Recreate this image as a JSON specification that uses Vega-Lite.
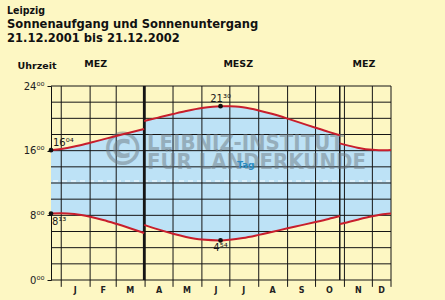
{
  "$schema": "https://vega.github.io/schema/vega-lite/v6.json",
  "width": 340,
  "height": 194,
  "autosize": {"type": "none"},
  "padding": {"left": 51, "top": 86, "right": 54, "bottom": 20},
  "background": "#fdf7c3",
  "config": {"view": {"stroke": null}, "font": "DejaVu Sans", "axisX": {"labelOverlap": false}},
  "title": {
    "text": "Leipzig",
    "subtitle": ["Sonnenaufgang und Sonnenuntergang", "21.12.2001 bis 21.12.2002"],
    "anchor": "start",
    "frame": "group",
    "dx": -44,
    "offset": 14,
    "font": "DejaVu Sans Condensed, Open Sans",
    "fontSize": 10.5,
    "fontWeight": "bold",
    "color": "#111111",
    "subtitleFont": "DejaVu Sans Condensed, Open Sans",
    "subtitleFontSize": 12.8,
    "subtitleFontWeight": "bold",
    "subtitleColor": "#111111",
    "subtitlePadding": 2,
    "subtitleLineHeight": 14
  },
  "datasets": {
    "sun": [
      {"date": "2001-12-21", "seg": "MEZ1", "rise": 8.217, "set": 16.067},
      {"date": "2002-01-01", "seg": "MEZ1", "rise": 8.257, "set": 16.209},
      {"date": "2002-01-15", "seg": "MEZ1", "rise": 8.153, "set": 16.503},
      {"date": "2002-02-01", "seg": "MEZ1", "rise": 7.817, "set": 16.983},
      {"date": "2002-02-15", "seg": "MEZ1", "rise": 7.426, "set": 17.398},
      {"date": "2002-03-01", "seg": "MEZ1", "rise": 6.949, "set": 17.815},
      {"date": "2002-03-15", "seg": "MEZ1", "rise": 6.436, "set": 18.214},
      {"date": "2002-03-31", "seg": "MEZ1", "rise": 5.823, "set": 18.671},
      {"date": "2002-03-31", "seg": "MESZ", "rise": 6.823, "set": 19.671},
      {"date": "2002-04-15", "seg": "MESZ", "rise": 6.26, "set": 20.09},
      {"date": "2002-05-01", "seg": "MESZ", "rise": 5.724, "set": 20.53},
      {"date": "2002-05-15", "seg": "MESZ", "rise": 5.331, "set": 20.899},
      {"date": "2002-06-01", "seg": "MESZ", "rise": 5.003, "set": 21.273},
      {"date": "2002-06-21", "seg": "MESZ", "rise": 4.9, "set": 21.5},
      {"date": "2002-07-01", "seg": "MESZ", "rise": 4.975, "set": 21.5},
      {"date": "2002-07-15", "seg": "MESZ", "rise": 5.186, "set": 21.364},
      {"date": "2002-08-01", "seg": "MESZ", "rise": 5.58, "set": 20.98},
      {"date": "2002-08-15", "seg": "MESZ", "rise": 5.943, "set": 20.557},
      {"date": "2002-09-01", "seg": "MESZ", "rise": 6.394, "set": 19.96},
      {"date": "2002-09-15", "seg": "MESZ", "rise": 6.757, "set": 19.437},
      {"date": "2002-10-01", "seg": "MESZ", "rise": 7.174, "set": 18.836},
      {"date": "2002-10-15", "seg": "MESZ", "rise": 7.556, "set": 18.32},
      {"date": "2002-10-27", "seg": "MESZ", "rise": 7.913, "set": 17.903},
      {"date": "2002-10-27", "seg": "MEZ2", "rise": 6.913, "set": 16.903},
      {"date": "2002-11-01", "seg": "MEZ2", "rise": 7.054, "set": 16.75},
      {"date": "2002-11-15", "seg": "MEZ2", "rise": 7.464, "set": 16.372},
      {"date": "2002-12-01", "seg": "MEZ2", "rise": 7.883, "set": 16.101},
      {"date": "2002-12-15", "seg": "MEZ2", "rise": 8.152, "set": 16.038},
      {"date": "2002-12-21", "seg": "MEZ2", "rise": 8.216, "set": 16.07}
    ],
    "months": [
      {"date": "2002-01-01"}, {"date": "2002-02-01"}, {"date": "2002-03-01"},
      {"date": "2002-04-01"}, {"date": "2002-05-01"}, {"date": "2002-06-01"},
      {"date": "2002-07-01"}, {"date": "2002-08-01"}, {"date": "2002-09-01"},
      {"date": "2002-10-01"}, {"date": "2002-11-01"}, {"date": "2002-12-01"},
      {"date": "2002-12-21"}
    ],
    "hours": [
      {"hour": 0}, {"hour": 2}, {"hour": 4}, {"hour": 6}, {"hour": 8}, {"hour": 10},
      {"hour": 12}, {"hour": 14}, {"hour": 16}, {"hour": 18}, {"hour": 20}, {"hour": 22}, {"hour": 24}
    ],
    "noon": [{"hour": 12}],
    "dst": [
      {"date": "2002-03-31", "change": "MEZ → MESZ"},
      {"date": "2002-10-27", "change": "MESZ → MEZ"}
    ],
    "zones": [
      {"date": "2002-02-07", "label": "MEZ"},
      {"date": "2002-07-10", "label": "MESZ"},
      {"date": "2002-11-22", "label": "MEZ"}
    ],
    "extremes": [
      {"date": "2001-12-21", "hour": 16.067, "label": "16⁰⁴", "event": "Sonnenuntergang"},
      {"date": "2001-12-21", "hour": 8.217, "label": "8¹³", "event": "Sonnenaufgang"},
      {"date": "2002-06-21", "hour": 21.5, "label": "21³⁰", "event": "Sonnenuntergang"},
      {"date": "2002-06-21", "hour": 4.9, "label": "4⁵⁴", "event": "Sonnenaufgang"}
    ],
    "copyright": [{"date": "2002-03-08", "hour": 15.9, "label": "©"}],
    "watermark": [
      {"date": "2002-04-03", "hour": 16.1, "label": "LEIBNIZ-INSTITUT"},
      {"date": "2002-04-03", "hour": 13.7, "label": "FÜR LÄNDERKUNDE"}
    ],
    "day": [{"date": "2002-07-18", "hour": 14.2, "label": "Tag"}],
    "monthLabels": [
      {"date": "2002-01-16", "label": "J"}, {"date": "2002-02-15", "label": "F"},
      {"date": "2002-03-16", "label": "M"}, {"date": "2002-04-16", "label": "A"},
      {"date": "2002-05-16", "label": "M"}, {"date": "2002-06-16", "label": "J"},
      {"date": "2002-07-16", "label": "J"}, {"date": "2002-08-16", "label": "A"},
      {"date": "2002-09-16", "label": "S"}, {"date": "2002-10-16", "label": "O"},
      {"date": "2002-11-16", "label": "N"}, {"date": "2002-12-11", "label": "D"}
    ]
  },
  "layer": [
    {
      "data": {"name": "sun"},
      "mark": {"type": "area", "interpolate": "monotone", "color": "#bde2f6", "opacity": 1},
      "encoding": {
        "x": {
          "field": "date", "type": "temporal",
          "scale": {"type": "utc", "domain": [{"year": 2001, "month": 12, "date": 21, "utc": true}, {"year": 2002, "month": 12, "date": 21, "utc": true}]},
          "axis": null
        },
        "y": {
          "field": "rise", "type": "quantitative",
          "scale": {"domain": [0, 24], "nice": false, "zero": false},
          "axis": {
            "title": "Uhrzeit", "titleAngle": 0, "titleAlign": "left", "titleBaseline": "middle",
            "titleX": -34, "titleY": -21, "titleFont": "DejaVu Sans", "titleFontSize": 9.5, "titleFontWeight": "bold", "titleColor": "#111111",
            "values": [0, 4, 8, 12, 16, 20, 24],
            "labelExpr": "datum.value + '⁰⁰'",
            "labelFont": "DejaVu Sans", "labelFontSize": 10, "labelColor": "#222222", "labelPadding": 3,
            "tickSize": 4, "tickColor": "#111111", "domainColor": "#111111", "grid": false
          }
        },
        "y2": {"field": "set"},
        "detail": {"field": "seg"}
      }
    },
    {
      "data": {"name": "hours"},
      "mark": {"type": "rule", "color": "#151515", "strokeWidth": 1},
      "encoding": {"y": {"field": "hour", "type": "quantitative"}}
    },
    {
      "data": {"name": "noon"},
      "mark": {"type": "rule", "color": "#ffffff", "strokeWidth": 1.2, "strokeDash": [5, 4], "yOffset": -2},
      "encoding": {"y": {"field": "hour", "type": "quantitative"}}
    },
    {
      "data": {"name": "months"},
      "mark": {"type": "rule", "color": "#151515", "strokeWidth": 1},
      "encoding": {
        "x": {"field": "date", "type": "temporal"},
        "y": {"datum": -0.85},
        "y2": {"datum": 24}
      }
    },
    {
      "data": {"name": "monthLabels"},
      "mark": {"type": "text", "font": "DejaVu Sans", "fontSize": 8, "fontWeight": "bold", "color": "#222222", "align": "center", "baseline": "top", "dy": 7},
      "encoding": {
        "x": {"field": "date", "type": "temporal"},
        "y": {"datum": 0},
        "text": {"field": "label"}
      }
    },
    {
      "data": {"name": "dst"},
      "mark": {"type": "rule", "color": "#151515"},
      "encoding": {
        "x": {"field": "date", "type": "temporal"},
        "strokeWidth": {"condition": {"test": "utcmonth(datum.date) == 2", "value": 2.5}, "value": 1.5}
      }
    },
    {
      "data": {"name": "copyright"},
      "mark": {"type": "text", "font": "DejaVu Sans", "fontSize": 46, "fontWeight": "bold", "color": "#6f7b84", "opacity": 0.5, "align": "center", "baseline": "middle"},
      "encoding": {
        "x": {"field": "date", "type": "temporal"},
        "y": {"field": "hour", "type": "quantitative"},
        "text": {"field": "label"}
      }
    },
    {
      "data": {"name": "watermark"},
      "mark": {"type": "text", "font": "DejaVu Sans Condensed, Liberation Sans Narrow", "fontSize": 22, "fontWeight": "bold", "color": "#6f7b84", "opacity": 0.5, "align": "left", "baseline": "alphabetic"},
      "encoding": {
        "x": {"field": "date", "type": "temporal"},
        "y": {"field": "hour", "type": "quantitative"},
        "text": {"field": "label"}
      }
    },
    {
      "data": {"name": "day"},
      "mark": {"type": "text", "font": "DejaVu Sans", "fontSize": 9, "fontWeight": "bold", "color": "#2a8cc4", "align": "center", "baseline": "middle"},
      "encoding": {
        "x": {"field": "date", "type": "temporal"},
        "y": {"field": "hour", "type": "quantitative"},
        "text": {"field": "label"}
      }
    },
    {
      "data": {"name": "sun"},
      "mark": {"type": "line", "interpolate": "monotone", "color": "#c81e2c", "strokeWidth": 2},
      "encoding": {
        "x": {"field": "date", "type": "temporal"},
        "y": {"field": "set", "type": "quantitative"},
        "detail": {"field": "seg"}
      }
    },
    {
      "data": {"name": "sun"},
      "mark": {"type": "line", "interpolate": "monotone", "color": "#c81e2c", "strokeWidth": 2},
      "encoding": {
        "x": {"field": "date", "type": "temporal"},
        "y": {"field": "rise", "type": "quantitative"},
        "detail": {"field": "seg"}
      }
    },
    {
      "data": {"name": "extremes"},
      "mark": {"type": "circle", "color": "#111111", "size": 22, "opacity": 1},
      "encoding": {
        "x": {"field": "date", "type": "temporal"},
        "y": {"field": "hour", "type": "quantitative"}
      }
    },
    {
      "data": {"name": "extremes"},
      "transform": [{"filter": "datum.hour > 12 && datum.hour < 20"}],
      "mark": {"type": "text", "font": "DejaVu Sans", "fontSize": 10, "color": "#1a1a1a", "align": "left", "baseline": "bottom", "dx": 2, "dy": -2},
      "encoding": {
        "x": {"field": "date", "type": "temporal"},
        "y": {"field": "hour", "type": "quantitative"},
        "text": {"field": "label"}
      }
    },
    {
      "data": {"name": "extremes"},
      "transform": [{"filter": "datum.hour > 6 && datum.hour < 12"}],
      "mark": {"type": "text", "font": "DejaVu Sans", "fontSize": 10, "color": "#1a1a1a", "align": "left", "baseline": "top", "dx": 1, "dy": 3},
      "encoding": {
        "x": {"field": "date", "type": "temporal"},
        "y": {"field": "hour", "type": "quantitative"},
        "text": {"field": "label"}
      }
    },
    {
      "data": {"name": "extremes"},
      "transform": [{"filter": "datum.hour > 20"}],
      "mark": {"type": "text", "font": "DejaVu Sans", "fontSize": 10, "color": "#1a1a1a", "align": "center", "baseline": "bottom", "dy": -2},
      "encoding": {
        "x": {"field": "date", "type": "temporal"},
        "y": {"field": "hour", "type": "quantitative"},
        "text": {"field": "label"}
      }
    },
    {
      "data": {"name": "extremes"},
      "transform": [{"filter": "datum.hour < 6"}],
      "mark": {"type": "text", "font": "DejaVu Sans", "fontSize": 10, "color": "#1a1a1a", "align": "center", "baseline": "top", "dy": 3},
      "encoding": {
        "x": {"field": "date", "type": "temporal"},
        "y": {"field": "hour", "type": "quantitative"},
        "text": {"field": "label"}
      }
    },
    {
      "data": {"name": "zones"},
      "mark": {"type": "text", "font": "DejaVu Sans", "fontSize": 9.5, "fontWeight": "bold", "color": "#111111", "align": "center", "baseline": "middle"},
      "encoding": {
        "x": {"field": "date", "type": "temporal"},
        "y": {"datum": 26.7},
        "text": {"field": "label"}
      }
    }
  ]
}
